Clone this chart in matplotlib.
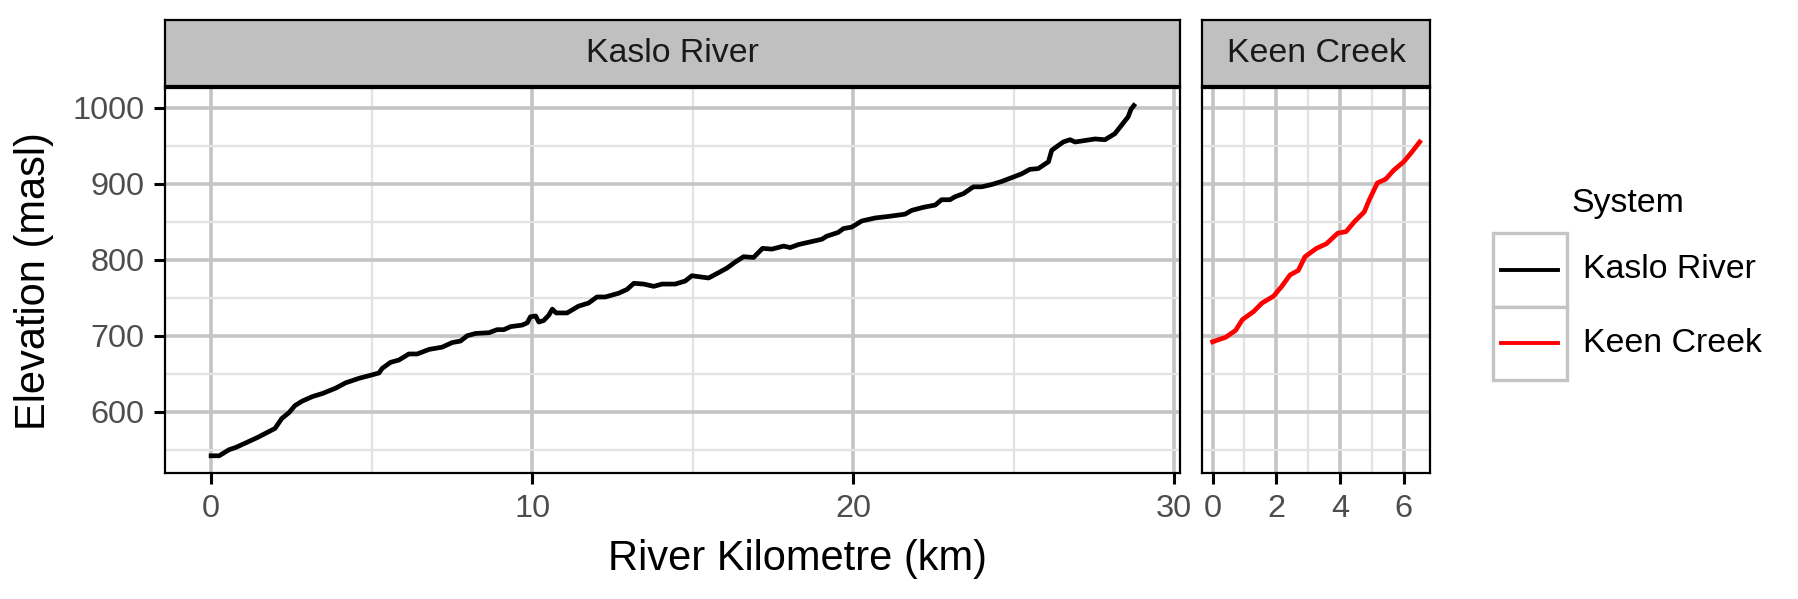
import matplotlib.pyplot as plt
from matplotlib.patches import Rectangle
from matplotlib.ticker import MultipleLocator

plt.rcParams['font.family'] = ['Liberation Sans', 'DejaVu Sans']

# facets / legend entries
systems = ["Kaslo River", "Keen Creek"]
system_colors = ["black", "red"]

# river profile (km from mouth, elevation in masl)
kaslo_km = [0, 0.25, 0.56, 0.77, 1.08, 1.44, 1.76, 1.99, 2.20, 2.43, 2.61, 2.84, 3.16, 3.47,
            3.88, 4.19, 4.61, 4.97, 5.23, 5.33, 5.59, 5.85, 6.16, 6.42, 6.79, 7.20, 7.51, 7.77,
            7.98, 8.24, 8.66, 8.91, 9.12, 9.33, 9.69, 9.85, 9.95, 10.11, 10.21, 10.36, 10.52,
            10.63, 10.75, 11.09, 11.25, 11.45, 11.76, 12.02, 12.28, 12.70, 12.96, 13.17, 13.48,
            13.79, 14.05, 14.46, 14.77, 14.98, 15.14, 15.50, 15.81, 16.07, 16.33, 16.59, 16.90,
            17.18, 17.47, 17.84, 18.04, 18.30, 18.61, 19.03, 19.18, 19.54, 19.70, 19.96, 20.27,
            20.69, 21.10, 21.62, 21.83, 22.19, 22.56, 22.76, 23.02, 23.18, 23.44, 23.75, 24.01,
            24.32, 24.63, 24.94, 25.25, 25.51, 25.77, 26.09, 26.19, 26.35, 26.55, 26.76, 26.92,
            27.23, 27.54, 27.85, 28.16, 28.42, 28.57, 28.66, 28.75]
kaslo_elev = [542, 542, 550, 553, 559, 566, 573, 578, 591, 599, 608, 614, 620, 624,
              631, 638, 644, 648, 651, 657, 665, 668, 676, 676, 682, 685, 691, 693,
              700, 703, 704, 708, 708, 712, 714, 717, 725, 726, 718, 720, 727,
              735, 730, 730, 734, 739, 743, 751, 751, 756, 761, 769, 768,
              765, 768, 768, 772, 779, 778, 776, 783, 789, 797, 804, 803,
              815, 814, 818, 816, 820, 823, 827, 831, 836, 841, 843, 851,
              855, 857, 860, 865, 869, 872, 879, 879, 883, 887, 896, 896,
              899, 903, 908, 913, 919, 920, 929, 944, 949, 955, 958, 955,
              957, 959, 958, 966, 980, 988, 998, 1003]

keen_km = [0, 0.41, 0.72, 0.93, 1.29, 1.55, 1.91, 2.17, 2.43, 2.69, 2.90, 3.26, 3.57, 3.93,
           4.19, 4.45, 4.76, 4.92, 5.17, 5.43, 5.69, 6.00, 6.26, 6.50]
keen_elev = [692, 698, 707, 721, 732, 743, 752, 765, 780, 786, 804, 815, 821, 835,
             837, 850, 863, 879, 901, 906, 918, 929, 942, 955]

x_major = [10, 2]
x_minor = [5, 1]

W, H, dpi = 1799, 599, 200

def box(x0, y0, x1, y1):
    # pixel box (top-left origin) -> figure fraction rect
    return [x0 / W, 1 - y1 / H, (x1 - x0) / W, (y1 - y0) / H]

def expand(lo, hi, f=0.05):
    pad = (hi - lo) * f
    return lo - pad, hi + pad

fig = plt.figure(figsize=(W / dpi, H / dpi), dpi=dpi)

ylim = expand(min(kaslo_elev + keen_elev), max(kaslo_elev + keen_elev))
panels = [(165, 1180), (1202.3, 1430)]
series = [(kaslo_km, kaslo_elev), (keen_km, keen_elev)]

for i in range(len(systems)):
    x0, x1 = panels[i]
    km, elev = series[i]

    ax = fig.add_axes(box(x0, 88, x1, 473.3))
    ax.plot(km, elev, color=system_colors[i], lw=1.7, solid_joinstyle='round', zorder=3)
    ax.set_xlim(expand(min(km), max(km)))
    ax.set_ylim(ylim)
    ax.xaxis.set_major_locator(MultipleLocator(x_major[i]))
    ax.xaxis.set_minor_locator(MultipleLocator(x_minor[i]))
    ax.yaxis.set_major_locator(MultipleLocator(100))
    ax.yaxis.set_minor_locator(MultipleLocator(50))
    ax.set_axisbelow(True)
    ax.grid(which='major', color='#C4C4C4', lw=1.3)
    ax.grid(which='minor', color='#E3E3E3', lw=0.8)
    ax.tick_params(which='major', labelsize=11.7, labelcolor='#4D4D4D', length=3.8,
                   width=1.1, pad=3.5, color='black')
    ax.tick_params(which='minor', length=0)
    if i > 0:
        ax.tick_params(axis='y', left=False, labelleft=False)
    for s in ax.spines.values():
        s.set_color('black')
        s.set_linewidth(0.8)

    # facet strip
    sax = fig.add_axes(box(x0, 20, x1, 86))
    sax.set_facecolor('#C0C0C0')
    sax.set_xticks([])
    sax.set_yticks([])
    for s in sax.spines.values():
        s.set_color('black')
        s.set_linewidth(0.8)
    sax.text(0.5, 0.5, systems[i], transform=sax.transAxes, ha='center', va='center',
             fontsize=12.2, color='#1A1A1A')

fig.text(34.4 / W, 1 - 280.6 / H, "Elevation (masl)", rotation=90, ha='center', va='center',
         fontsize=15)
fig.text(797.5 / W, 1 - 559 / H, "River Kilometre (km)", ha='center', va='center', fontsize=15)

# legend drawn by hand, in pixel units
lax = fig.add_axes(box(1480, 180, 1799, 400))
lax.set_xlim(1480, 1799)
lax.set_ylim(400, 180)
lax.axis('off')
lax.text(1571.5, 203.5, "System", ha='left', va='center', fontsize=12.2)
for i in range(len(systems)):
    top = 233.3 + i * 73.3
    lax.add_patch(Rectangle((1492.7, top), 74, 73.3, facecolor='white', edgecolor='#C4C4C4', lw=1.2))
    lax.plot([1501, 1558.3], [top + 36.7, top + 36.7], color=system_colors[i], lw=1.4)
    lax.text(1583.3, top + 36.7, systems[i], ha='left', va='center', fontsize=12.2)

plt.savefig("out.png", dpi=dpi)
